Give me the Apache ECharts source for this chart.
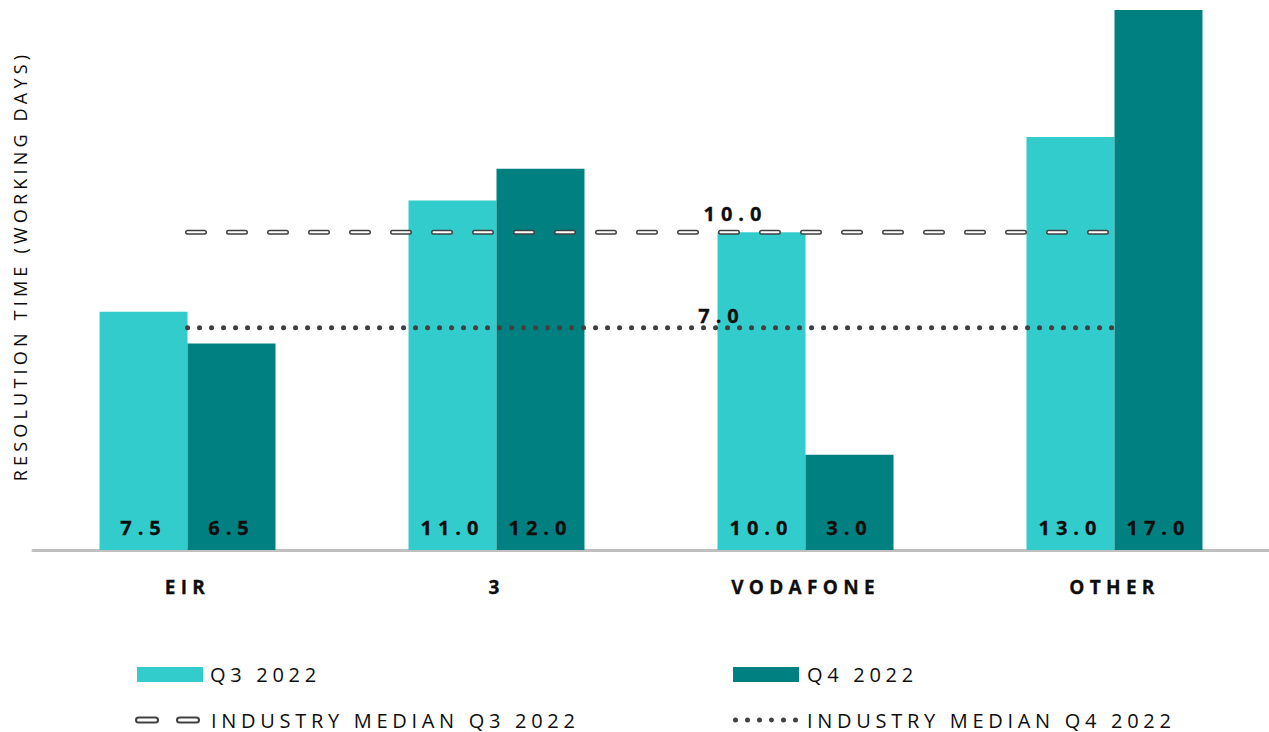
<!DOCTYPE html>
<html>
<head>
<meta charset="utf-8">
<script src="https://cdn.jsdelivr.net/npm/echarts@6/dist/echarts.min.js"></script>
<style>
html,body{margin:0;padding:0;background:#ffffff;}
#main{width:1269px;height:732px;}
#main text{letter-spacing:4.7px;}
#main text[style*="18px"]{letter-spacing:4.2px;}
#main text[style*="bold"][style*="19px"]{letter-spacing:5.3px;}
#main text[style*="bold"][style*="20px"]{letter-spacing:6px;}
</style>
</head>
<body>
<div id="main"></div>
<script>
// ---- data ----
const categories = ['EIR', '3', 'VODAFONE', 'OTHER'];
const q3Values = [7.5, 11.0, 10.0, 13.0];
const q4Values = [6.5, 12.0, 3.0, 17.0];
const medianQ3 = [10.0, 10.0, 10.0, 10.0];
const medianQ4 = [7.0, 7.0, 7.0, 7.0];
const seriesNames = ['Q3 2022', 'Q4 2022', 'INDUSTRY MEDIAN Q3 2022', 'INDUSTRY MEDIAN Q4 2022'];
const yAxisTitle = 'RESOLUTION TIME (WORKING DAYS)';
const medianLabelIndex = 2;

// ---- styling ----
const FONT = "'Open Sans', 'Noto Sans', sans-serif";
const TXT = '#0d0d0d';
const LINE = '#404040';
const C_Q3 = '#33cccc';
const C_Q4 = '#008080';

const capsulePath = 'path://M2.5,0 H19.5 A2.5,2.5 0 0 1 19.5,5 H2.5 A2.5,2.5 0 0 1 2.5,0 Z M43.5,0 H60.5 A2.5,2.5 0 0 1 60.5,5 H43.5 A2.5,2.5 0 0 1 43.5,0 Z';
let dots = '';
for (let k = 0; k < 6; k++) {
  const x = 12 * k;
  dots += 'M' + x + ',2.5 A2.5,2.5 0 1 0 ' + (x + 5) + ',2.5 A2.5,2.5 0 1 0 ' + x + ',2.5 Z ';
}
const dotsPath = 'path://' + dots.trim();

const barLabel = {
  show: true, position: 'insideBottom', distance: 13,
  color: TXT, fontWeight: 'bold', fontSize: 20, fontFamily: FONT,
  textBorderColor: TXT, textBorderWidth: 0.3,
  formatter: p => Number(p.value).toFixed(1)
};
function medianLabel(offset) {
  return {
    show: true, position: 'inside', offset: offset,
    color: TXT, fontWeight: 'bold', fontSize: 20, fontFamily: FONT,
    textBorderColor: TXT, textBorderWidth: 0.3,
    formatter: p => p.dataIndex === medianLabelIndex ? Number(p.value).toFixed(1) : ''
  };
}
const legendText = { fontSize: 20, color: TXT, fontFamily: FONT };

const chart = echarts.init(document.getElementById('main'), null, { renderer: 'svg' });
chart.setOption({
  animation: false,
  textStyle: { fontFamily: FONT },
  grid: { left: 33, right: 0, top: 10, bottom: 182, containLabel: false, outerBoundsMode: 'none' },
  legend: [
    { data: [seriesNames[0]], left: 137, top: 664.5, padding: 0, icon: 'rect', itemWidth: 66, itemHeight: 15,
      selectedMode: false, textStyle: Object.assign({ padding: [0, 0, 0, 2] }, legendText) },
    { data: [seriesNames[1]], left: 733, top: 664.5, padding: 0, icon: 'rect', itemWidth: 66, itemHeight: 15,
      selectedMode: false, textStyle: Object.assign({ padding: [0, 0, 0, 3] }, legendText) },
    { data: [{ name: seriesNames[2], icon: capsulePath, itemStyle: { color: '#ffffff', borderColor: LINE, borderWidth: 2 } }],
      left: 135, top: 710, padding: 0, itemWidth: 63, itemHeight: 5, selectedMode: false,
      textStyle: Object.assign({ padding: [0, 0, 0, 7] }, legendText) },
    { data: [{ name: seriesNames[3], icon: dotsPath, itemStyle: { color: LINE, borderWidth: 0 } }],
      left: 733, top: 710, padding: 0, itemWidth: 65, itemHeight: 5, selectedMode: false,
      textStyle: Object.assign({ padding: [0, 0, 0, 4] }, legendText) }
  ],
  xAxis: {
    type: 'category', data: categories, offset: 2,
    axisLine: { show: true, lineStyle: { color: '#bfbfbf', width: 3 } },
    axisTick: { show: false },
    axisLabel: { interval: 0, margin: 25, color: TXT, fontWeight: 'bold', fontSize: 19, fontFamily: FONT,
      textBorderColor: TXT, textBorderWidth: 0.3 },
    splitLine: { show: false }
  },
  yAxis: {
    type: 'value', min: 0, max: 17,
    name: yAxisTitle, nameLocation: 'middle', nameGap: 4, nameRotate: 90,
    nameTextStyle: { fontSize: 18, color: TXT, fontFamily: FONT, padding: [0, 0, 0, 28] },
    axisLine: { show: false }, axisTick: { show: false }, axisLabel: { show: false }, splitLine: { show: false }
  },
  series: [
    { name: seriesNames[0], type: 'bar', data: q3Values, barWidth: 88, barGap: '0%',
      itemStyle: { color: C_Q3 }, label: barLabel, silent: true, z: 2 },
    { name: seriesNames[1], type: 'bar', data: q4Values, barWidth: 88, barGap: '0%',
      itemStyle: { color: C_Q4 }, label: barLabel, silent: true, z: 2 },
    { name: seriesNames[2], type: 'line', data: medianQ3, symbol: 'circle', symbolSize: 0, showSymbol: true,
      itemStyle: { color: LINE },
      lineStyle: { color: LINE, width: 5, type: [17, 24], cap: 'round' },
      label: medianLabel([-70, -19]), silent: true, z: 3 },
    { name: 'median-q3-inner', type: 'line', data: medianQ3, showSymbol: false, symbol: 'none',
      lineStyle: { color: '#ffffff', width: 2, type: [17, 24], cap: 'round' }, silent: true, z: 4 },
    { name: seriesNames[3], type: 'line', data: medianQ4, symbol: 'circle', symbolSize: 0, showSymbol: true,
      itemStyle: { color: LINE },
      lineStyle: { color: LINE, width: 5, type: [0.1, 11.9], cap: 'round' },
      label: medianLabel([-84, -12]), silent: true, z: 3 }
  ]
});
</script>
</body>
</html>
